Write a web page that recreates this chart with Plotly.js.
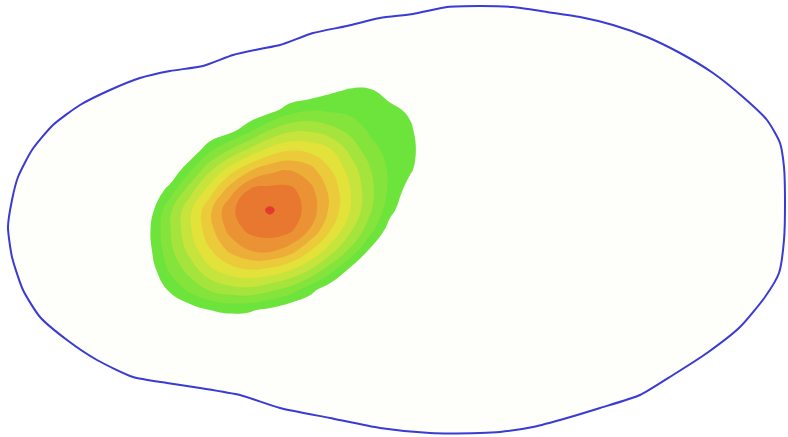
<!DOCTYPE html>
<html>
<head>
<meta charset="utf-8">
<script src="https://cdn.plot.ly/plotly-3.0.1.min.js"></script>
<style>html,body{margin:0;padding:0;background:#fff;}#plot{width:788px;height:437px;}</style>
</head>
<body>
<div id="plot"></div>
<script>
// Outline of the region (pixel-like data coordinates)
var outlineX = [8,12,18,32,53,80,110,140,170,203,233,260,280,313,347,380,413,447,480,513,547,580,613,647,680,713,743,767,780,784,785,784,779,765,740,707,673,640,600,567,533,500,480,430,380,330,280,240,200,167,133,97,67,40,23,12,8];
var outlineY = [227,200,177,150,125,105,90,78,71,66,55,49,45,33,26,18,14,7,6,7,12,17,25,37,53,73,97,120,143,167,200,240,273,297,327,353,375,395,408,418,427,432,433,433,428,418,408,395,388,383,377,360,340,317,290,257,227];

// Intensity grid
var gridX = [130,150,170,190,210,230,250,270,290,310,330,350,370,390,410,430];
var gridY = [70,90,110,130,150,170,190,210,230,250,270,290,310,330];
var zRow70  = [0,0,0,0,0,0,0,0,0,0,0,0,0,0,0,0];
var zRow90  = [0,0,0,0,0,0,0,0,0,0.25,0.8,1.08,1.08,0.5,0,0];
var zRow110 = [0,0,0,0,0,0,0,0.6,1.5,1.94,1.83,1.70,1.53,1.3,0.8,0];
var zRow130 = [0,0,0,0,0,0.58,1.75,3.0,3.75,3.83,3.37,2.68,1.83,1.45,1.2,0];
var zRow150 = [0,0,0,0.1,1.77,3.09,4.26,5.35,5.93,5.73,5.12,3.76,2.36,1.66,1.25,0.4];
var zRow170 = [0,0,0.05,1.81,3.82,5.53,6.88,7.71,7.97,7.39,6.08,4.59,3.08,1.79,1.15,0.1];
var zRow190 = [0,0,1.4,3.56,5.51,7.5,9.11,9.35,9.27,8.33,6.76,5.04,3.29,1.78,0.55,0];
var zRow210 = [0,0.55,2.8,4.8,6.8,8.8,9.54,10.15,9.51,8.64,6.82,5.0,3.18,1.36,0,0];
var zRow230 = [0,0.95,2.93,4.85,6.66,8.35,9.27,9.49,9.22,7.93,6.07,4.22,2.4,0.45,0,0];
var zRow250 = [0,0.82,2.72,4.38,5.93,7.25,8.06,8.24,7.57,6.12,4.55,2.84,0.86,0,0,0];
var zRow270 = [0,0.45,2.2,3.4,4.78,5.56,5.94,5.71,5.04,3.96,2.41,0.75,0,0,0,0];
var zRow290 = [0,0,1.15,2.25,3.09,3.57,3.66,3.18,2.55,1.35,0.3,0,0,0,0,0];
var zRow310 = [0,0,0,0.45,1.0,1.22,1.12,0.75,0.15,0,0,0,0,0,0,0];
var zRow330 = [0,0,0,0,0,0,0,0,0,0,0,0,0,0,0,0];

// Band colours, lowest (transparent) to highest
var bandColors = ['rgba(255,255,255,0)','#6de43c','#84e43c','#a4e43c','#c6e43c','#e2e23a','#eccb3a','#ecae38','#eb9334','#e8772f','#e23a2e'];
var insideColor = '#fefefb';
var outlineColor = '#3a3ad4';

var z = [zRow70,zRow90,zRow110,zRow130,zRow150,zRow170,zRow190,zRow210,zRow230,zRow250,zRow270,zRow290,zRow310,zRow330];
var nLev = bandColors.length - 1;
var colorscale = bandColors.map(function(c,i){return [i/nLev, c];});

var traces = [
  {
    type:'scatter', mode:'lines', x:outlineX, y:outlineY,
    fill:'toself', fillcolor:insideColor,
    line:{color:outlineColor, width:2, shape:'spline', smoothing:0.6},
    hoverinfo:'skip', showlegend:false, xaxis:'x', yaxis:'y'
  },
  {
    type:'contour', x:gridX, y:gridY, z:z,
    autocontour:false,
    contours:{start:1, end:nLev, size:1, coloring:'fill', showlines:false},
    line:{width:0, smoothing:1.3},
    colorscale:colorscale, showscale:false, hoverinfo:'skip',
    xaxis:'x2', yaxis:'y2'
  }
];

var layout = {
  width:788, height:437,
  margin:{l:0,r:0,t:0,b:0,pad:0},
  paper_bgcolor:'#ffffff', plot_bgcolor:'#ffffff',
  xaxis:{range:[0,788], visible:false, fixedrange:true},
  yaxis:{range:[437,0], visible:false, fixedrange:true},
  xaxis2:{range:[0,788], visible:false, fixedrange:true, overlaying:'x'},
  yaxis2:{range:[437,0], visible:false, fixedrange:true, overlaying:'y'},
  showlegend:false
};

Plotly.newPlot('plot', traces, layout, {staticPlot:true, displayModeBar:false});
</script>
</body>
</html>
